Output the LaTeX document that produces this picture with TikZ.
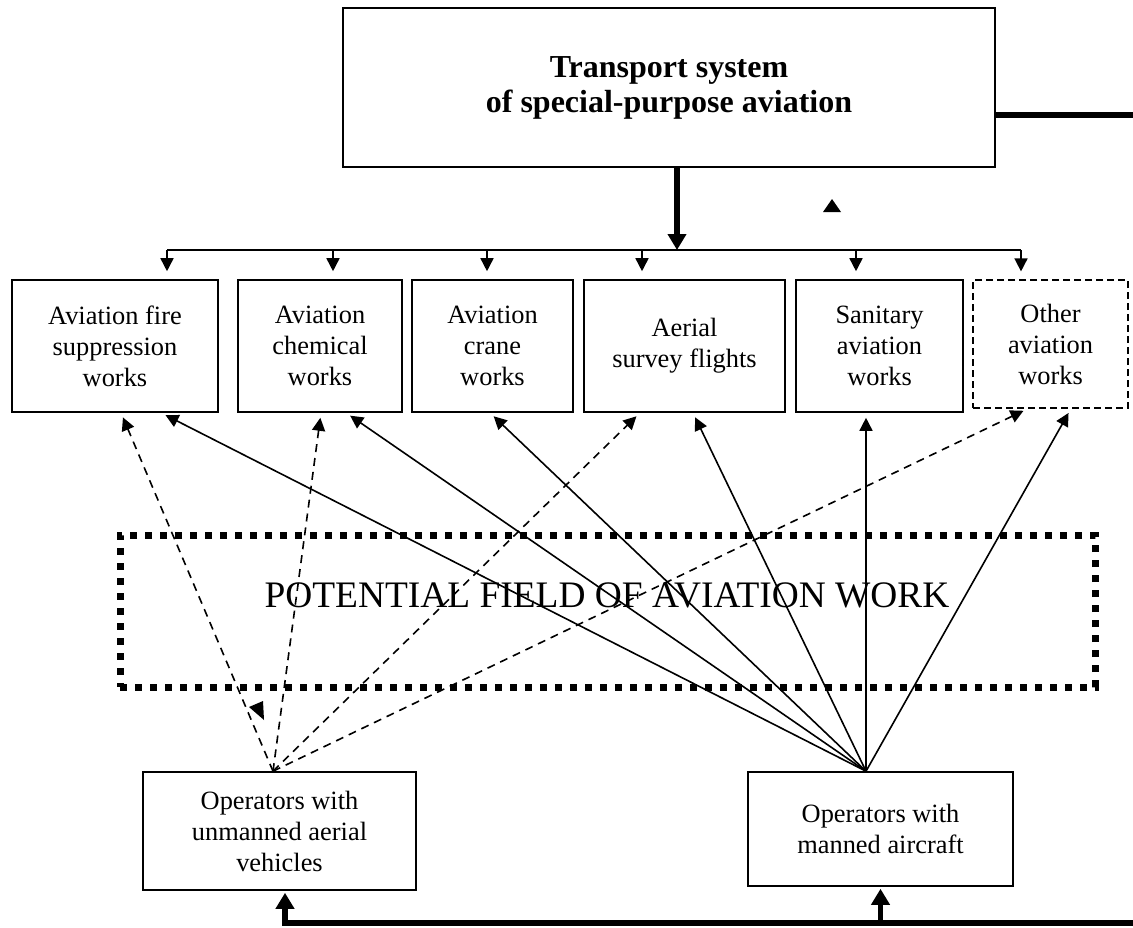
\documentclass[tikz,border=0pt]{standalone}
\usepackage{fontspec}
\setmainfont{Liberation Serif}
\usetikzlibrary{arrows.meta}

\begin{document}
\begin{tikzpicture}[x=0.5pt, y=-0.5pt,
    box/.style={draw, line width=0.8pt, inner sep=0pt, align=center, font=\fontsize{13.2}{15.5}\selectfont},
    arr/.style={-{Triangle[length=6.5pt, width=6.5pt]}, line width=0.8pt},
    dasharr/.style={arr, dash pattern=on 4pt off 3pt},
    bigarr/.style={-{Triangle[length=8pt, width=9pt]}, line width=2.8pt},
    heavy/.style={line width=3pt}]
\useasboundingbox (0,0) rectangle (1133,927);

\node[box, minimum width=326pt, minimum height=79.5pt, font=\bfseries\fontsize{16}{17.5}\selectfont] (ts) at (669,87.5) {Transport system\\of special-purpose aviation};

\node[box, minimum width=103pt, minimum height=66pt] (fire) at (115,346) {Aviation fire\\suppression\\works};
\node[box, minimum width=82pt, minimum height=66pt] (chem) at (320,346) {Aviation\\chemical\\works};
\node[box, minimum width=80.5pt, minimum height=66pt] (crane) at (492.5,346) {Aviation\\crane\\works};
\node[box, minimum width=100.5pt, minimum height=66pt] (survey) at (684.5,346) {Aerial\\survey flights};
\node[box, minimum width=83.5pt, minimum height=66pt] (sanit) at (879.5,346) {Sanitary\\aviation\\works};
\node[box, line width=0.6pt, dash pattern=on 3.5pt off 2pt, minimum width=77.5pt, minimum height=64pt] (other) at (1050.5,344) {Other\\aviation\\works};

% potential field
\node[draw, line width=3.5pt, dash pattern=on 3.5pt off 4pt, minimum width=487.5pt, minimum height=76pt] (field) at (607.5,611) {};
\node[anchor=base, inner sep=0pt, font=\fontsize{18.7}{22}\selectfont] (fieldtxt) at (607,607) {POTENTIAL FIELD OF AVIATION WORK};

\node[box, minimum width=136.5pt, minimum height=59pt] (uav) at (279.5,831) {Operators with\\unmanned aerial\\vehicles};
\node[box, minimum width=132.5pt, minimum height=57pt] (man) at (880.5,829) {Operators with\\manned aircraft};

% distribution
\coordinate (hub) at (677,250);
\draw[bigarr] (ts.south -| hub) -- (hub);
\draw[line width=0.8pt] (hub -| 167,0) -- (hub -| 1021,0);
\foreach \x/\n in {167/fire, 333/chem, 487/crane, 642/survey, 856/sanit, 1021/other}
  \draw[arr, shorten >=4pt] (hub -| \x,0) -- (\n.north -| \x,0);

% operators
\coordinate (mhub) at ([xshift=-7.25pt]man.north);
\coordinate (uhub) at ([xshift=-3.25pt]uav.north);
\foreach \n/\s in {fire/23, chem/13, crane/-1.25, survey/4.25, sanit/-6.75, other/10.25}
  \draw[arr, shorten >=2.5pt] (mhub) -- ([xshift=\s pt]\n.south);
\foreach \n/\s in {fire/3, chem/0.5, survey/-22.25, other/-11.25}
  \draw[dasharr, shorten >=2.5pt] (uhub) -- ([xshift=\s pt]\n.south);

\fill (823,212) -- (832,199) -- (841,212) -- cycle;
\fill (263,701) -- (249,707) -- (264,720) -- cycle;

% feedback
\coordinate (te) at (1133,115);
\draw[heavy] (ts.east |- te) -- (te);
\coordinate (be) at (1133,923);
\draw[bigarr, shorten >=1pt] (be) -| ([xshift=2.75pt]uav.south);
\draw[bigarr, shorten >=1pt] (man.south |- be) -- (man.south);
\end{tikzpicture}
\end{document}
